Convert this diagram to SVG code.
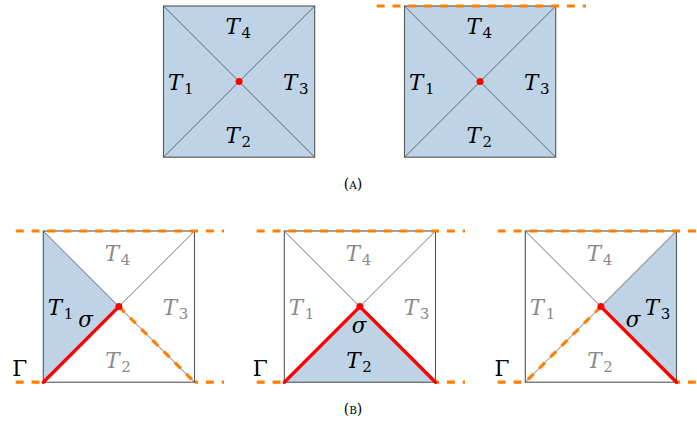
<svg xmlns="http://www.w3.org/2000/svg" xmlns:xlink="http://www.w3.org/1999/xlink" width="697" height="426" viewBox="0 0 697 426" font-family="'DejaVu Serif', serif">
<style>
.sq{fill:none;stroke:#555;stroke-width:1.1}
.dg{stroke:#444;stroke-width:0.75;fill:none}
.bl{fill:#bed4e6;stroke:none}
.gm{stroke:#ff8000;stroke-width:3.2;stroke-dasharray:8 7.85;fill:none}
.rd{stroke:#f00;stroke-width:3.4;fill:none;stroke-linecap:round;stroke-linejoin:round}
.dot{fill:#f00}
.t{font-family:'DejaVu Serif', serif;font-size:21.5px;fill:#000}
.it{font-style:italic}
.sub{font-size:15px;font-style:normal}
.gr{fill:#8a8a8a}
.cap{font-size:14px}
</style>
<defs>
<g id="diags">
<line class="dg" x1="0" y1="0" x2="151.2" y2="151.2"/>
<line class="dg" x1="151.2" y1="0" x2="0" y2="151.2"/>
</g>
</defs>

<g id="panelA1" transform="translate(163.5,6)">
<rect class="bl" x="0" y="0" width="151.2" height="151.2"/>
<use xlink:href="#diags"/>
<rect class="sq" x="0" y="0" width="151.2" height="151.2"/>
<circle class="dot" cx="75.6" cy="75.6" r="3.5"/>
<text class="t it" x="62" y="27.5">T</text><text class="t sub" x="78" y="31.5">4</text>
<text class="t it" x="4.5" y="83.5">T</text><text class="t sub" x="20.5" y="87.5">1</text>
<text class="t it" x="119.5" y="83.5">T</text><text class="t sub" x="135.5" y="87.5">3</text>
<text class="t it" x="62" y="137.3">T</text><text class="t sub" x="78" y="141.3">2</text>
</g>

<g id="panelA2" transform="translate(404.5,6)">
<rect class="bl" x="0" y="0" width="151.2" height="151.2"/>
<use xlink:href="#diags"/>
<rect class="sq" x="0" y="0" width="151.2" height="151.2"/>
<line class="gm" x1="-27.8" y1="0" x2="181.5" y2="0"/>
<circle class="dot" cx="75.6" cy="75.6" r="3.5"/>
<text class="t it" x="62" y="27.5">T</text><text class="t sub" x="78" y="31.5">4</text>
<text class="t it" x="4.5" y="83.5">T</text><text class="t sub" x="20.5" y="87.5">1</text>
<text class="t it" x="119.5" y="83.5">T</text><text class="t sub" x="135.5" y="87.5">3</text>
<text class="t it" x="62" y="137.3">T</text><text class="t sub" x="78" y="141.3">2</text>
</g>

<text class="t cap" x="353" y="189" text-anchor="middle">(<tspan font-size="10.5">A</tspan>)</text>

<g id="panelB1" transform="translate(43.3,231)">
<line class="gm" x1="-27.6" y1="151.2" x2="180.7" y2="151.2"/>
<rect x="0" y="147" width="151.2" height="8" fill="#fff"/>
<polygon class="bl" points="0,0 75.6,75.6 0,151.2"/>
<use xlink:href="#diags"/>
<rect class="sq" x="0" y="0" width="151.2" height="151.2"/>
<line class="rd" x1="0" y1="151.2" x2="75.6" y2="75.6"/>
<line class="gm" x1="75.6" y1="75.6" x2="151.2" y2="151.2" stroke-dasharray="7 5"/>
<line class="gm" x1="-27.6" y1="0" x2="180.7" y2="0"/>
<circle class="dot" cx="75.6" cy="75.6" r="3.5"/>
<text class="t it gr" x="61.5" y="30">T</text><text class="t sub gr" x="77.5" y="34">4</text>
<text class="t it" x="4.5" y="83.7">T</text><text class="t sub" x="20.5" y="87.7">1</text>
<text class="t it gr" x="119.5" y="83.7">T</text><text class="t sub gr" x="135.5" y="87.7">3</text>
<text class="t it gr" x="62" y="137.3">T</text><text class="t sub gr" x="78" y="141.3">2</text>
<text class="t it" x="35" y="95.7">σ</text>
<text class="t" x="-31" y="144.5">Γ</text>
</g>

<g id="panelB2" transform="translate(284.3,231)">
<line class="gm" x1="-27.6" y1="151.2" x2="180.7" y2="151.2"/>
<rect x="0" y="147" width="151.2" height="8" fill="#fff"/>
<polygon class="bl" points="0,151.2 75.6,75.6 151.2,151.2"/>
<use xlink:href="#diags"/>
<rect class="sq" x="0" y="0" width="151.2" height="151.2"/>
<polyline class="rd" points="0,151.2 75.6,75.6 151.2,151.2"/>
<line class="gm" x1="-27.6" y1="0" x2="180.7" y2="0"/>
<circle class="dot" cx="75.6" cy="75.6" r="3.5"/>
<text class="t it gr" x="61.5" y="30">T</text><text class="t sub gr" x="77.5" y="34">4</text>
<text class="t it gr" x="4.5" y="83.7">T</text><text class="t sub gr" x="20.5" y="87.7">1</text>
<text class="t it gr" x="119.5" y="83.7">T</text><text class="t sub gr" x="135.5" y="87.7">3</text>
<text class="t it" x="62" y="137.3">T</text><text class="t sub" x="78" y="141.3">2</text>
<text class="t it" x="67.5" y="101.7">σ</text>
<text class="t" x="-31.5" y="144.5">Γ</text>
</g>

<g id="panelB3" transform="translate(525.3,231)">
<line class="gm" x1="-27.6" y1="151.2" x2="180.7" y2="151.2"/>
<rect x="0" y="147" width="151.2" height="8" fill="#fff"/>
<polygon class="bl" points="151.2,0 75.6,75.6 151.2,151.2"/>
<use xlink:href="#diags"/>
<rect class="sq" x="0" y="0" width="151.2" height="151.2"/>
<line class="rd" x1="75.6" y1="75.6" x2="151.2" y2="151.2"/>
<line class="gm" x1="75.6" y1="75.6" x2="0" y2="151.2" stroke-dasharray="7 5"/>
<line class="gm" x1="-27.6" y1="0" x2="180.7" y2="0"/>
<circle class="dot" cx="75.6" cy="75.6" r="3.5"/>
<text class="t it gr" x="61.5" y="30">T</text><text class="t sub gr" x="77.5" y="34">4</text>
<text class="t it gr" x="4.5" y="83.7">T</text><text class="t sub gr" x="20.5" y="87.7">1</text>
<text class="t it" x="119.5" y="83.7">T</text><text class="t sub" x="135.5" y="87.7">3</text>
<text class="t it gr" x="62" y="137.3">T</text><text class="t sub gr" x="78" y="141.3">2</text>
<text class="t it" x="100.5" y="95.7">σ</text>
<text class="t" x="-30.8" y="144.5">Γ</text>
</g>

<text class="t cap" x="353" y="414" text-anchor="middle">(<tspan font-size="10.5">B</tspan>)</text>
</svg>
